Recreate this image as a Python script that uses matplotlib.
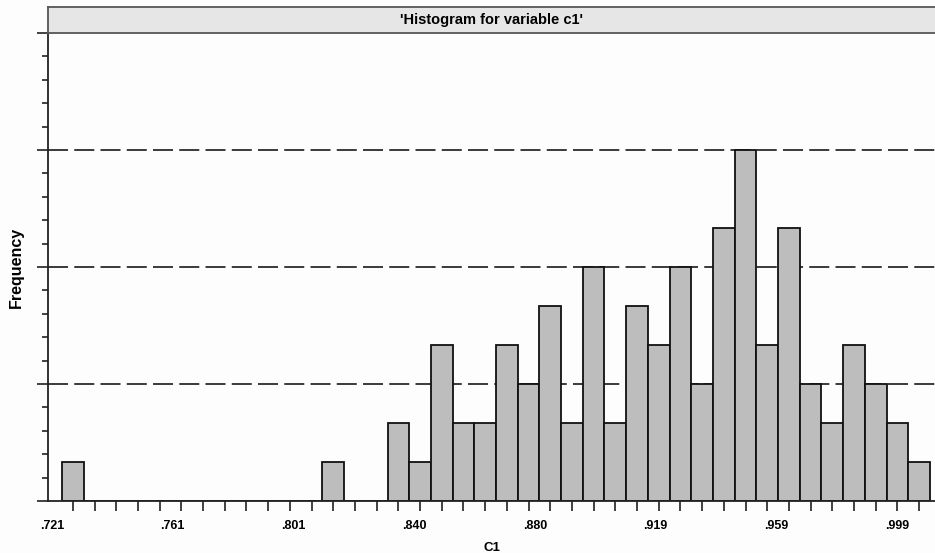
import numpy as np
import matplotlib.pyplot as plt
from matplotlib.ticker import MultipleLocator

# histogram of c1: 40 bins, counts
bin_start = 0.72429
bin_width = 0.007139
counts = [1, 0, 0, 0, 0, 0, 0, 0, 0, 0, 0, 0, 1, 0, 0, 2, 1, 4, 2, 2,
          4, 3, 5, 2, 6, 2, 5, 4, 6, 3, 7, 9, 4, 7, 3, 2, 4, 3, 2, 1]
tick_vals = [0.721, 0.7607, 0.8004, 0.8401, 0.8799, 0.9196, 0.9593, 0.999]
tick_labels = ['.721', '.761', '.801', '.840', '.880', '.919', '.959', '.999']

edges = bin_start + bin_width * np.arange(len(counts) + 1)
centers = (edges[:-1] + edges[1:]) / 2

plt.rcParams['font.family'] = ['Liberation Sans', 'DejaVu Sans']

fig = plt.figure(figsize=(9.35, 5.53), dpi=100)
fig.patch.set_facecolor('#fdfdfd')
W, H = 935.0, 553.0

ax = fig.add_axes([48 / W, (H - 501) / H, (935 - 48) / W, (501 - 33) / H])
ax.set_facecolor('#fdfdfd')

for y in [3, 6, 9]:
    ax.axhline(y, color='#3a3a3a', lw=1.4, dashes=(10.3, 3.2), zorder=1)

ax.bar(edges[:-1], counts, width=bin_width, align='edge', color='#bdbdbd',
       edgecolor='#111111', linewidth=1.3, zorder=2)

ax.set_xlim(0.71968, 1.0115)
ax.set_ylim(0, 12)

ax.set_xticks(tick_vals)
ax.set_xticklabels(tick_labels, fontsize=9, fontweight='bold')
ax.set_xticks(centers, minor=True)
ax.tick_params(axis='x', which='major', length=0, pad=14)
ax.tick_params(axis='x', which='minor', length=7, width=1.2, color='#222222')

ax.yaxis.set_major_locator(MultipleLocator(3))
ax.yaxis.set_minor_locator(MultipleLocator(0.6))
ax.set_yticklabels([])
ax.tick_params(axis='y', which='major', length=8, width=1.2, color='#222222')
ax.tick_params(axis='y', which='minor', length=4, width=1.2, color='#222222')

ax.spines['right'].set_visible(False)
ax.spines['top'].set_visible(False)
ax.spines['left'].set_linewidth(1.3)
ax.spines['bottom'].set_linewidth(1.3)
ax.spines['left'].set_color('#222222')
ax.spines['bottom'].set_color('#222222')

ax.set_xlabel('C1', fontsize=9.5, fontweight='bold', labelpad=7)
ax.set_ylabel('Frequency', fontsize=11.5, fontweight='bold')
ax.yaxis.set_label_coords(-24 / 887, 0.5)

# title strip
tax = fig.add_axes([48 / W, (H - 33) / H, (935 - 48) / W, (33 - 7) / H])
tax.set_facecolor('#e6e6e6')
tax.set_xticks([])
tax.set_yticks([])
for s in tax.spines.values():
    s.set_color('#555555')
    s.set_linewidth(1.3)
tax.spines['right'].set_visible(False)
tax.text(0.5, 0.5, "'Histogram for variable c1'", ha='center', va='center',
         fontsize=10.5, fontweight='bold', transform=tax.transAxes)

fig.savefig('out.png', dpi=100, facecolor=fig.get_facecolor())
